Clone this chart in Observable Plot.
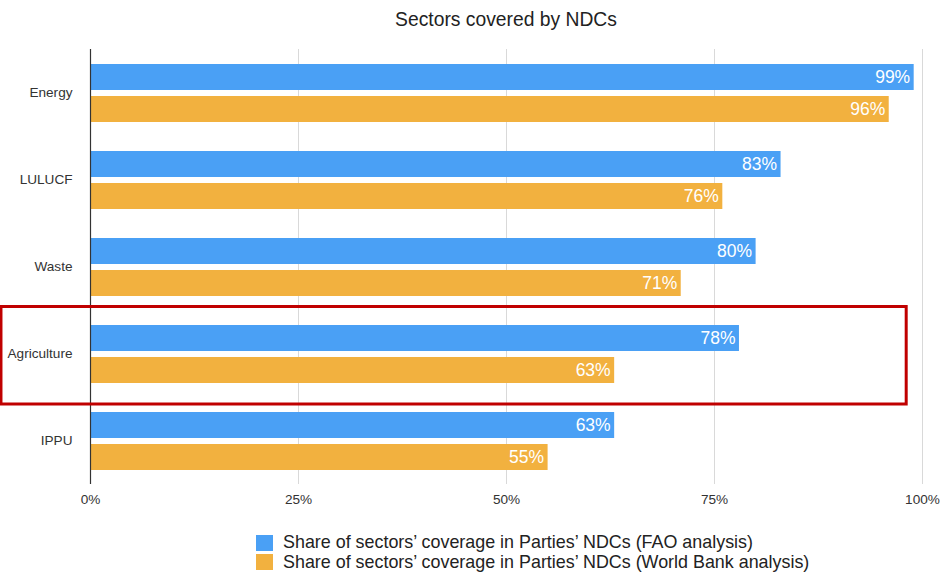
<!DOCTYPE html>
<html><head><meta charset="utf-8">
<script src="https://cdn.jsdelivr.net/npm/d3@7"></script>
<script src="https://cdn.jsdelivr.net/npm/@observablehq/plot@0.6"></script>
<style>
body{margin:0;background:#fff;font-family:"Liberation Sans",Arial,Helvetica,sans-serif;color:#222;}
#title{height:40px;line-height:40px;box-sizing:border-box;padding-left:90px;padding-right:21px;text-align:center;font-size:19.3px;color:#222;}
#chart{height:480px;}
#legend{padding-top:13px;padding-left:256px;}
.item{display:flex;align-items:center;height:19.5px;font-size:17.9px;color:#222;}
.sw{width:17px;height:16px;margin-right:10px;}
</style></head><body>
<div id="title">Sectors covered by NDCs</div>
<div id="chart"></div>
<div id="legend"></div>
<script>
const sectors = ["Energy", "LULUCF", "Waste", "Agriculture", "IPPU"];
const series = [
  "Share of sectors’ coverage in Parties’ NDCs (FAO analysis)",
  "Share of sectors’ coverage in Parties’ NDCs (World Bank analysis)"
];
const faoValues = [99, 83, 80, 78, 63];
const worldBankValues = [96, 76, 71, 63, 55];
const xTicks = [0, 25, 50, 75, 100];
const colors = ["#4aa0f5", "#f2b13f"];
const highlight = ["Agriculture"];

const data = sectors.flatMap((s, i) => [
  {sector: s, series: series[0], value: faoValues[i]},
  {sector: s, series: series[1], value: worldBankValues[i]}
]);

const chart = Plot.plot({
  width: 943, height: 480,
  marginLeft: 90, marginRight: 21, marginTop: 8, marginBottom: 34.5,
  style: {fontFamily: '"Liberation Sans", Arial, Helvetica, sans-serif', fontSize: "13.6px", color: "#333", background: "#fff"},
  x: {domain: [0, 100], ticks: xTicks, tickFormat: d => d + "%", tickSize: 0, tickPadding: 10, label: null},
  fy: {domain: sectors, paddingInner: 0, paddingOuter: 0, tickSize: 0, tickPadding: 18, label: null},
  y: {domain: series, paddingInner: 0.2, paddingOuter: 0.426, axis: null},
  color: {domain: series, range: colors},
  marks: [
    Plot.gridX(xTicks, {stroke: "#d9d9d9", strokeOpacity: 1}),
    Plot.barX(data, {x: "value", y: "series", fy: "sector", fill: "series"}),
    Plot.text(data, {x: "value", y: "series", fy: "sector", text: d => d.value + "%", textAnchor: "end", dx: -4, fill: "white", fontSize: 17.5}),
    Plot.ruleX([0], {stroke: "#333", strokeWidth: 1.2}),
    Plot.rect(highlight, {fy: d => d, x1: () => -10.7, x2: () => 98.1, fill: "none", stroke: "#c00000", strokeWidth: 3, insetTop: -3.5, insetBottom: -7})
  ]
});
document.getElementById("chart").appendChild(chart);

const legend = document.getElementById("legend");
series.forEach((s, i) => {
  const item = document.createElement("div");
  item.className = "item";
  const sw = document.createElement("div");
  sw.className = "sw";
  sw.style.background = colors[i];
  const t = document.createElement("span");
  t.textContent = s;
  item.appendChild(sw);
  item.appendChild(t);
  legend.appendChild(item);
});
</script>
</body></html>
